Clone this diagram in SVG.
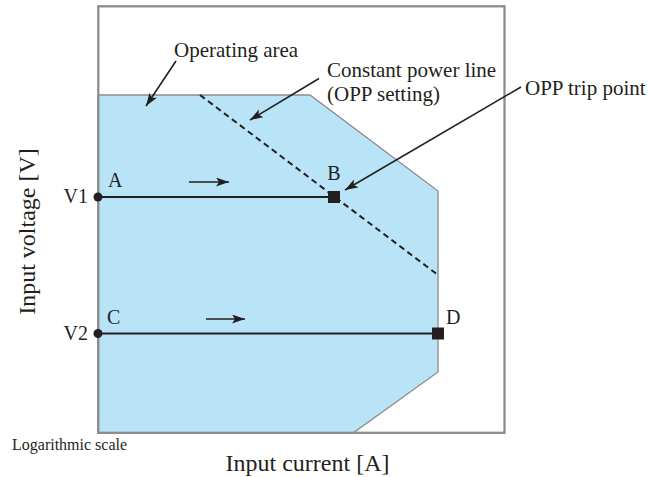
<svg xmlns="http://www.w3.org/2000/svg" width="649" height="477" viewBox="0 0 649 477">
  <style>
    text { font-family: "Liberation Serif", "Times New Roman", serif; fill: #231f20; }
    .lbl { font-size: 21px; }
    .pt { font-size: 20px; }
    .axis { font-size: 24px; }
    .small { font-size: 16px; }
    .ln { stroke: #231f20; stroke-width: 2.2; fill: none; }
    .lead { stroke: #231f20; stroke-width: 1.6; fill: none; marker-end: url(#ah); }
    .dir { stroke: #231f20; stroke-width: 1.6; fill: none; marker-end: url(#ah); }
    .mk { fill: #231f20; }
  </style>
  <defs>
    <marker id="ah" markerUnits="userSpaceOnUse" markerWidth="15" markerHeight="10" refX="13" refY="4.5" orient="auto">
      <path d="M0,0 L13,4.5 L0,9 L3,4.5 z" fill="#231f20"/>
    </marker>
  </defs>

  <rect width="649" height="477" fill="#ffffff"/>

  <g id="operating-area">
    <polygon points="98,95 310,95 438,191 438,372 353,433 98,433" fill="#b9e4f8" stroke="#8c8c8c" stroke-width="1.3"/>
  </g>

  <g id="frame">
    <rect x="98.3" y="6.3" width="406.2" height="426.5" fill="none" stroke="#8c8c8c" stroke-width="2.3"/>
  </g>

  <g id="constant-power-line">
    <line x1="200" y1="95" x2="438" y2="275" stroke="#231f20" stroke-width="2" stroke-dasharray="6,4"/>
  </g>

  <g id="connectors">
    <line class="ln" x1="98" y1="197" x2="334" y2="197"/>
    <line class="ln" x1="98" y1="333.5" x2="438" y2="333.5"/>
    <line class="dir" x1="189" y1="182" x2="229" y2="182"/>
    <line class="dir" x1="206" y1="319" x2="245" y2="319"/>
    <line class="lead" x1="176" y1="61" x2="146" y2="106"/>
    <line class="lead" x1="319" y1="78.5" x2="250" y2="120"/>
    <line class="lead" x1="521" y1="87" x2="345" y2="190"/>
  </g>

  <g id="point-A">
    <circle class="mk" cx="98" cy="197" r="4.5"/>
    <text class="pt" x="108" y="186.5">A</text>
    <text class="pt" x="88" y="202.5" text-anchor="end">V1</text>
  </g>
  <g id="point-B">
    <rect class="mk" x="328" y="191" width="12" height="12"/>
    <text class="pt" x="334" y="180" text-anchor="middle">B</text>
  </g>
  <g id="point-C">
    <circle class="mk" cx="98" cy="333.5" r="4.5"/>
    <text class="pt" x="107" y="323.5">C</text>
    <text class="pt" x="88" y="339.5" text-anchor="end">V2</text>
  </g>
  <g id="point-D">
    <rect class="mk" x="432" y="327.5" width="12" height="12"/>
    <text class="pt" x="446" y="324">D</text>
  </g>

  <g id="labels">
    <text class="lbl" x="174" y="56.5">Operating area</text>
    <text class="lbl" x="327" y="76.5">Constant power line</text>
    <text class="lbl" x="327" y="100.5">(OPP setting)</text>
    <text class="lbl" x="525" y="95">OPP trip point</text>
    <text class="axis" x="307.5" y="470.5" text-anchor="middle">Input current [A]</text>
    <text class="axis" transform="translate(35,231.5) rotate(-90)" text-anchor="middle">Input voltage [V]</text>
    <text class="small" x="12" y="449.5">Logarithmic scale</text>
  </g>
</svg>
